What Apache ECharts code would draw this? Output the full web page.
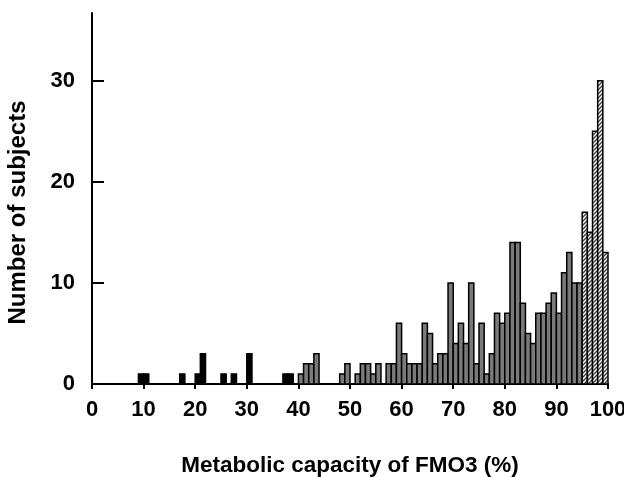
<!DOCTYPE html>
<html>
<head>
<meta charset="utf-8">
<script src="https://cdn.jsdelivr.net/npm/echarts@6/dist/echarts.min.js"></script>
<style>html,body{margin:0;padding:0;background:#fff}#c{width:624px;height:477px}</style>
</head>
<body>
<div id="c"></div>
<script>
// Bin width is 1 (% unit); each array gives counts per bin, starting at the listed bin start.
const blackStart = 0;
const blackCounts = [0,0,0,0,0,0,0,0,0,1, 1,0,0,0,0,0,0,1,0,0, 1,3,0,0,0,1,0,1,0,0, 3,0,0,0,0,0,0,1,1,0];
const greyStart = 40;
const greyCounts = [1,2,2,3,0,0,0,0,1,2, 0,1,2,2,1,2,0,2,2,6, 3,2,2,2,6,5,2,3,3,10, 4,6,4,10,2,6,1,3,7,6, 7,14,14,8,5,4,7,7,8,9, 7,11,13,10,10];
const hatchStart = 95;
const hatchCounts = [17,15,25,30,13];
const xTicks = [0,10,20,30,40,50,60,70,80,90,100];
const yTicks = [0,10,20,30];

function toData(start, counts){ return counts.map((c,i)=>[start+i, c]); }

const pc = document.createElement('canvas');
pc.width = 4; pc.height = 4;
const g = pc.getContext('2d');
g.fillStyle = '#ffffff'; g.fillRect(0,0,4,4);
g.strokeStyle = '#404040'; g.lineWidth = 1.4;
g.beginPath(); g.moveTo(-1,5); g.lineTo(5,-1); g.moveTo(-1,1); g.lineTo(1,-1); g.moveTo(3,5); g.lineTo(5,3); g.stroke();

function makeRender(fill){
  return function(params, api){
    const x0 = api.value(0), h = api.value(1);
    if (!h) return null;
    const p0 = api.coord([x0, 0]);
    const p1 = api.coord([x0 + 1, h]);
    return {
      type: 'rect',
      shape: {x: p0[0], y: p1[1], width: p1[0]-p0[0], height: p0[1]-p1[1]},
      style: {fill: fill, stroke: '#000', lineWidth: 1.5}
    };
  };
}

const font = '"Liberation Sans", Arial, Helvetica, sans-serif';
const chart = echarts.init(document.getElementById('c'), null, {renderer: 'canvas'});
chart.setOption({
  animation: false,
  grid: {left: 92, right: 16, top: 13, bottom: 93, containLabel: false, outerBoundsMode: 'none'},
  xAxis: {
    type: 'value', min: 0, max: 100, interval: 10,
    name: 'Metabolic capacity of FMO3 (%)', nameLocation: 'middle', nameGap: 70,
    nameTextStyle: {fontFamily: font, fontWeight: 'bold', fontSize: 22.5, color: '#000'},
    axisLine: {show: true, lineStyle: {color: '#000', width: 2}},
    axisTick: {show: true, inside: false, length: 5, lineStyle: {color: '#000', width: 2}, customValues: xTicks},
    axisLabel: {fontFamily: font, fontWeight: 'bold', fontSize: 22, color: '#000', margin: 15, customValues: xTicks},
    splitLine: {show: false}
  },
  yAxis: {
    type: 'value', min: 0, max: 36.7, interval: 10,
    name: 'Number of subjects', nameLocation: 'middle', nameGap: 62, nameRotate: 90,
    nameTextStyle: {fontFamily: font, fontWeight: 'bold', fontSize: 24, color: '#000', padding: [0, 28, 0, 0]},
    axisLine: {show: true, lineStyle: {color: '#000', width: 2}},
    axisTick: {show: true, inside: true, length: 12, lineStyle: {color: '#000', width: 2}, customValues: yTicks},
    axisLabel: {fontFamily: font, fontWeight: 'bold', fontSize: 22, color: '#000', margin: 17, customValues: yTicks},
    splitLine: {show: false}
  },
  series: [
    {type: 'custom', renderItem: makeRender('#000000'), data: toData(blackStart, blackCounts), encode: {x: 0, y: 1}},
    {type: 'custom', renderItem: makeRender('#7a7a7a'), data: toData(greyStart, greyCounts), encode: {x: 0, y: 1}},
    {type: 'custom', renderItem: makeRender({image: pc, repeat: 'repeat'}), data: toData(hatchStart, hatchCounts), encode: {x: 0, y: 1}}
  ]
});
</script>
</body>
</html>
